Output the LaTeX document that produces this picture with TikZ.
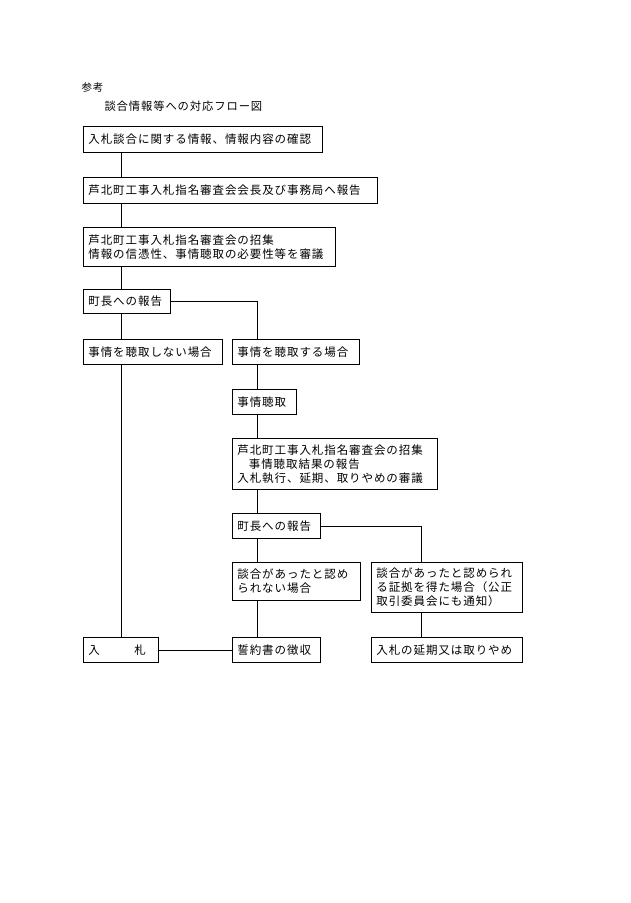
\documentclass[tikz,border=0pt]{standalone}
\usepackage{fontspec}
\setmainfont{Noto Sans CJK JP}[LetterSpace=8]
\begin{document}
\begin{tikzpicture}[x=1pt,y=-1pt,
  bx/.style={draw,line width=0.8pt,anchor=north west,inner xsep=5pt,inner ysep=0pt,align=left,
    font=\fontsize{11.5}{14}\selectfont},
  ln/.style={line width=0.8pt}]
\useasboundingbox (0,0) rectangle (630,903);
\node[anchor=west,font=\fontsize{10.5}{12}\selectfont] (t0) at (78,88) {参考};
\node[anchor=west,font=\fontsize{11.3}{12}\selectfont] (t1) at (101,106) {談合情報等への対応フロー図};
\newcommand{\bb}[6]{\node[bx,minimum width=#4-#2,minimum height=#5-#3,text width=#4-#2-10] (#1) at (#2,#3) {#6};}
\bb{b1}{83}{126}{322}{152}{入札談合に関する情報、情報内容の確認}
\bb{b2}{83}{177}{377}{203}{芦北町工事入札指名審査会会長及び事務局へ報告}
\bb{b3}{83}{227}{335}{266}{芦北町工事入札指名審査会の招集\\情報の信憑性、事情聴取の必要性等を審議}
\bb{b4}{83}{289}{170}{313}{町長への報告}
\bb{b5}{83}{339}{222}{364}{事情を聴取しない場合}
\bb{b6}{232}{339}{359}{364}{事情を聴取する場合}
\bb{b7}{232}{389}{296}{414}{事情聴取}
\bb{b8}{232}{438}{437}{489}{芦北町工事入札指名審査会の招集\\\hspace{1em}事情聴取結果の報告\\入札執行、延期、取りやめの審議}
\bb{b9}{232}{513}{320}{538}{町長への報告}
\bb{b10}{232}{562}{360}{600}{談合があったと認め\\られない場合}
\bb{b11}{371}{562}{522}{612}{談合があったと認められ\\る証拠を得た場合（公正\\取引委員会にも通知）}
\bb{b12}{83}{637}{158}{662}{入\hspace{3em}札}
\bb{b13}{232}{637}{320}{662}{誓約書の徴収}
\bb{b14}{371}{637}{522}{662}{入札の延期又は取りやめ}
\draw[ln] (b1.south -| 121,0) -- (b2.north -| 121,0);
\draw[ln] (b2.south -| 121,0) -- (b3.north -| 121,0);
\draw[ln] (b3.south -| 121,0) -- (b4.north -| 121,0);
\draw[ln] (b4.south -| 121,0) -- (b5.north -| 121,0);
\draw[ln] (b5.south -| 121,0) -- (b12.north -| 121,0);
\draw[ln] (b4.east) -| (b6.north -| 257,0);
\draw[ln] (b6.south -| 257,0) -- (b7.north -| 257,0);
\draw[ln] (b7.south -| 257,0) -- (b8.north -| 257,0);
\draw[ln] (b8.south -| 257,0) -- (b9.north -| 257,0);
\draw[ln] (b9.south -| 257,0) -- (b10.north -| 257,0);
\draw[ln] (b10.south -| 257,0) -- (b13.north -| 257,0);
\draw[ln] (b9.east) -| (b11.north -| 421,0);
\draw[ln] (b11.south -| 421,0) -- (b14.north -| 421,0);
\draw[ln] (b12.east) -- (b13.west);
\end{tikzpicture}
\end{document}
